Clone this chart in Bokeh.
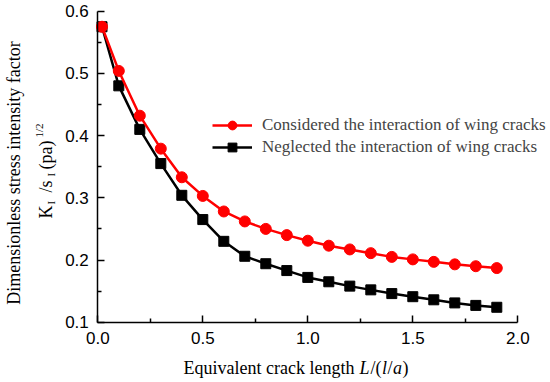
import math
from bokeh.plotting import figure
from bokeh.models import (Range1d, FixedTicker, PrintfTickFormatter, Legend, LegendItem, Label,
                          LinearAxis)
from bokeh.embed import file_html
from bokeh.resources import INLINE

# ---- data ----
x_vals = [0.02, 0.1, 0.2, 0.3, 0.4, 0.5, 0.6, 0.7, 0.8, 0.9, 1.0,
          1.1, 1.2, 1.3, 1.4, 1.5, 1.6, 1.7, 1.8, 1.9]
considered = [0.575, 0.504, 0.432, 0.379, 0.333, 0.303, 0.278, 0.262, 0.250, 0.240, 0.231,
              0.223, 0.217, 0.211, 0.205, 0.201, 0.197, 0.193, 0.190, 0.187]
neglected = [0.575, 0.480, 0.410, 0.355, 0.304, 0.265, 0.230, 0.206, 0.194, 0.183, 0.172,
             0.165, 0.158, 0.152, 0.146, 0.141, 0.136, 0.131, 0.127, 0.124]
x_ticks = [0.0, 0.5, 1.0, 1.5, 2.0]
x_minor = [0.25, 0.75, 1.25, 1.75]
y_ticks = [0.1, 0.2, 0.3, 0.4, 0.5, 0.6]
y_minor = [0.15, 0.25, 0.35, 0.45, 0.55]
label_considered = "Considered the interaction of wing cracks"
label_neglected = "Neglected the interaction of wing cracks"

# ---- layout (canvas pixels) ----
W, H = 550, 382
FL, FT, FW, FH = 97.3, 10.7, 420, 311
X0, X1, Y0, Y1 = 0.0, 2.0, 0.1, 0.6

def dx(wx):
    return X0 + (wx - FL) / FW * (X1 - X0)

def dy(wy):
    return Y1 - (wy - FT) / FH * (Y1 - Y0)

p = figure(width=W, height=H, output_backend="svg", toolbar_location=None,
           x_range=Range1d(dx(0), dx(W)), y_range=Range1d(dy(H), dy(0)),
           x_axis_location=None, y_axis_location=None,
           min_border=0, min_border_left=0, min_border_right=0,
           min_border_top=0, min_border_bottom=0)
p.outline_line_color = None
p.grid.visible = False
p.background_fill_color = "white"
p.border_fill_color = "white"

xax = LinearAxis(fixed_location=Y0, bounds=(X0, X1),
                 ticker=FixedTicker(ticks=x_ticks, minor_ticks=x_minor))
yax = LinearAxis(fixed_location=X0, bounds=(Y0, Y1),
                 ticker=FixedTicker(ticks=y_ticks, minor_ticks=y_minor))
for ax in (xax, yax):
    ax.axis_line_width = 1.5
    ax.axis_line_color = "black"
    ax.major_tick_in = 7
    ax.major_tick_out = 0
    ax.minor_tick_in = 4
    ax.minor_tick_out = 0
    ax.major_tick_line_width = 1.5
    ax.minor_tick_line_width = 1.5
    ax.major_label_text_font = "Liberation Sans"
    ax.major_label_text_font_size = "17px"
    ax.major_label_text_color = "black"
    ax.formatter = PrintfTickFormatter(format="%.1f")
xax.major_label_standoff = 10
yax.major_label_standoff = 9
p.add_layout(xax, "below")
p.add_layout(yax, "left")

# ---- series ----
bl = p.line(x_vals, neglected, line_color="black", line_width=2.5)
bs = p.scatter(x_vals, neglected, marker="square", size=10, fill_color="black", line_color="black")
rl = p.line(x_vals, considered, line_color="#ff0000", line_width=2.5)
rs = p.scatter(x_vals, considered, marker="circle", size=11, fill_color="#ff0000", line_color="#ff0000")

legend = Legend(items=[LegendItem(label=label_considered, renderers=[rl, rs]),
                       LegendItem(label=label_neglected, renderers=[bl, bs])],
                location=(212, H - 158),
                glyph_width=40, glyph_height=22, label_height=22, spacing=0,
                padding=0, margin=0, label_standoff=10,
                label_text_font="Liberation Serif", label_text_font_size="17px",
                border_line_color=None, background_fill_alpha=0)
p.add_layout(legend)

# ---- x axis title (mixed italic) ----
xt_base = 367
xsegs = [("Equivalent crack length ", 183, "normal"), ("L", 359, "italic"), ("/(", 370, "normal"),
         ("l", 381.5, "italic"), ("/", 387, "normal"), ("a", 392.5, "italic"), (")", 402, "normal")]
for t, wx, st in xsegs:
    p.add_layout(Label(x=dx(wx), y=dy(xt_base), text=t, text_font="Liberation Serif",
                       text_font_size="18px", text_font_style=st, text_align="left",
                       text_baseline="alphabetic", text_color="black"))

# ---- y axis title ----
p.add_layout(Label(x=dx(13.5), y=dy(172.5), text="Dimensionless stress intensity factor",
                   angle=math.pi / 2, text_font="Liberation Serif", text_font_size="18px",
                   text_align="center", text_baseline="middle", text_color="black"))
ysegs = [("K", 45, 218, "18px"), ("I", 50, 204, "11px"), ("/s", 45, 192, "18px"),
         ("I", 50, 176, "11px"), ("(pa)", 45, 169, "18px"), ("1/2", 38, 137, "11px")]
for t, wx, wy, fs in ysegs:
    p.add_layout(Label(x=dx(wx), y=dy(wy), text=t, angle=math.pi / 2,
                       text_font="Liberation Serif", text_font_size=fs,
                       text_align="left", text_baseline="alphabetic", text_color="black"))

open("out.html", "w").write(file_html(p, INLINE))
